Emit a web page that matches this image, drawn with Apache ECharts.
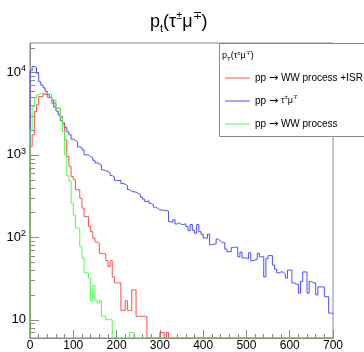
<!DOCTYPE html>
<html><head><meta charset="utf-8">
<script src="https://cdn.jsdelivr.net/npm/echarts@6/dist/echarts.min.js"></script>
<style>html,body{margin:0;padding:0;background:#fff}#c{width:364px;height:352px}</style>
</head><body><div id="c"></div>
<script>
// ---- data (histograms, 5-unit bins from 0 to 700) ----
const BIN_WIDTH = 5;
const X_MIN = 0, X_MAX = 700;
const Y_MIN = 6, Y_MAX = 22750;
const xTickLabels = [0, 100, 200, 300, 400, 500, 600, 700];

const seriesNames = ['pp \u2192 WW process +ISR', 'pp \u2192 \u03c4\u00b1\u03bc\u2213', 'pp \u2192 WW process'];

const blueValues = [
  10500, 11800, 11500, 9800, 7700, 7000, 6500, 5900, 5400, 5000,
  4600, 3800, 3400, 3050, 2600, 2450, 2150, 1900, 1750, 1550,
  1500, 1430, 1250, 1220, 1150, 1000, 1000, 950, 930, 860,
  800, 780, 750, 660, 640, 630, 600, 560, 540, 490,
  485, 495, 450, 440, 425, 380, 360, 355, 355, 340,
  330, 307, 290, 272, 277, 258, 250, 232, 225, 215,
  215, 212, 210, 208, 155, 152, 163, 145, 150, 143,
  143, 146, 135, 120, 143, 121, 112, 143, 117, 109,
  98, 98, 109, 81, 83, 83, 95, 90, 86, 86,
  72, 67, 67, 75, 76, 76, 58, 66, 56, 56,
  55, 65, 52, 53, 54, 64, 58, 58, 33, 55,
  60, 60, 46, 41, 37, 38, 38, 36, 32, 40,
  40, 28, 27, 27, 21, 29, 38, 38, 21, 29,
  28, 28, 20, 25, 25, 25, 19, 19, 12, 12
];

const redValues = [
  1260, 1750, 3350, 4040, 5090, 5090, 5440, 5440, 4950, 4950,
  4240, 4240, 3680, 3680, 2920, 2310, 1520, 955, 720, 545,
  498, 377, 377, 298, 226, 178, 178, 135, 117, 97,
  88, 85, 64, 63, 63, 52, 44, 52, 33, 28,
  28, 28, 13, 13, 17, 13, 13, 23, 23, 11,
  11, 11, 11, 11, 0, 0, 0, 0, 0, 0,
  7, 7, 0, 7, 0, 0, 0, 0, 0, 0,
  0, 0, 0, 0, 0, 0, 0, 0, 0, 0,
  0, 0, 0, 0, 0, 0, 0, 0, 0, 0,
  0, 0, 0, 0, 0, 0, 0, 0, 0, 0,
  0, 0, 0, 0, 0, 0, 0, 0, 0, 0,
  0, 0, 0, 0, 0, 0, 0, 0, 0, 0,
  0, 0, 0, 0, 0, 0, 0, 0, 0, 0,
  0, 0, 0, 0, 0, 0, 0, 0, 0, 0
];

const greenValues = [
  2010, 3840, 4860, 5340, 5580, 5580, 5580, 5580, 5440, 5440,
  4640, 4640, 3680, 3680, 2780, 1920, 1000, 560, 480, 260,
  187, 129, 129, 77, 56, 37, 37, 32, 17, 26,
  17, 16, 17, 11, 11, 10, 10, 10, 0, 0,
  0, 0, 0, 0, 0, 0, 7, 7, 0, 0,
  0, 0, 0, 0, 0, 0, 0, 0, 0, 0,
  0, 0, 0, 0, 0, 0, 0, 0, 0, 0,
  0, 0, 0, 0, 0, 0, 0, 0, 0, 0,
  0, 0, 0, 0, 0, 0, 0, 0, 0, 0,
  0, 0, 0, 0, 0, 0, 0, 0, 0, 0,
  0, 0, 0, 0, 0, 0, 0, 0, 0, 0,
  0, 0, 0, 0, 0, 0, 0, 0, 0, 0,
  0, 0, 0, 0, 0, 0, 0, 0, 0, 0,
  0, 0, 0, 0, 0, 0, 0, 0, 0, 0
];

// ---- helpers ----
const FONT = 'Liberation Sans, Arial, Helvetica, sans-serif';
const ARROW_FONT = 'DejaVu Sans, Liberation Sans, sans-serif';
const AXIS_GRAY = '#8a8a8a';
const COLORS = { red: '#ff4d4d', blue: '#4d4dff', green: '#4dff4d' };

function toSteps(vals) {
  const pts = [[X_MIN, Y_MIN]];
  vals.forEach((v, i) => pts.push([X_MIN + i * BIN_WIDTH, v > 0 ? v : Y_MIN]));
  const last = vals[vals.length - 1];
  pts.push([X_MAX, last > 0 ? last : Y_MIN]);
  return pts;
}

// log-axis tick positions (decades and 2..9 subdivisions) within range
const yTickVals = [];
for (let e = 0; e <= 4; e++) {
  for (let m = 1; m <= 9; m++) {
    const v = m * Math.pow(10, e);
    if (v >= Y_MIN && v <= Y_MAX) yTickVals.push(v);
  }
}

const legendLabels = {};
legendLabels[seriesNames[0]] = '{a|pp }{r|\u2192}{a| WW process +ISR}';
legendLabels[seriesNames[1]] = '{a|pp }{r|\u2192}{a| }{g|\u03c4}{s|\u00b1}{g|\u03bc}{s|\u2213}';
legendLabels[seriesNames[2]] = '{a|pp }{r|\u2192}{a| WW process}';

const chart = echarts.init(document.getElementById('c'));

const grid = { left: 30, top: 43, width: 303, height: 295 };

chart.setOption({
  animation: false,
  backgroundColor: '#fff',
  title: {
    text: '{p|p}{sub|t}{p|(\u03c4}{sup|\u00b1}{p|\u03bc}{sup|\u2213}{p|)}',
    left: 150, top: 10, padding: 0,
    textStyle: {
      fontFamily: FONT, fontWeight: 'normal', color: '#000',
      rich: {
        p: { fontFamily: FONT, fontSize: 18, lineHeight: 24, color: '#000' },
        sub: { fontFamily: FONT, fontSize: 11, lineHeight: 12, verticalAlign: 'bottom', color: '#000' },
        sup: { fontFamily: FONT, fontSize: 11, lineHeight: 12, verticalAlign: 'top', color: '#000' }
      }
    }
  },
  grid: Object.assign({ show: true, borderColor: AXIS_GRAY, borderWidth: 1, backgroundColor: 'transparent' }, grid),
  xAxis: {
    type: 'value', min: X_MIN, max: X_MAX, interval: 100,
    axisLine: { show: true, lineStyle: { color: AXIS_GRAY, width: 1 } },
    axisTick: { show: true, inside: true, length: 8, lineStyle: { color: AXIS_GRAY } },
    minorTick: { show: true, splitNumber: 5, length: 4, lineStyle: { color: AXIS_GRAY } },
    splitLine: { show: false }, minorSplitLine: { show: false },
    axisLabel: {
      color: '#000', fontFamily: FONT, fontSize: 12, margin: 2,
      formatter: v => xTickLabels.indexOf(v) >= 0 ? String(v) : ''
    }
  },
  yAxis: {
    type: 'log', logBase: 10, min: Y_MIN, max: Y_MAX,
    axisLine: { show: true, lineStyle: { color: AXIS_GRAY, width: 1 } },
    axisTick: { show: false }, splitLine: { show: false },
    minorTick: { show: false }, minorSplitLine: { show: false },
    axisLabel: {
      margin: 4, color: '#000', fontFamily: FONT,
      showMinLabel: true, showMaxLabel: true,
      formatter: v => {
        const l = Math.log10(v), e = Math.round(l);
        if (Math.abs(l - e) > 1e-6) return '';
        if (e === 1) return '{b|10}';
        return '{b|10}{s|' + e + '}';
      },
      rich: {
        b: { fontFamily: FONT, fontSize: 13, lineHeight: 16, color: '#000' },
        s: { fontFamily: FONT, fontSize: 9, lineHeight: 10, verticalAlign: 'top', color: '#000' }
      }
    }
  },
  legend: {
    data: [
      { name: seriesNames[0], icon: 'rect', itemStyle: { color: COLORS.red } },
      { name: seriesNames[1], icon: 'rect', itemStyle: { color: COLORS.blue } },
      { name: seriesNames[2], icon: 'rect', itemStyle: { color: COLORS.green } }
    ],
    orient: 'vertical', left: 225, top: 71,
    itemWidth: 25, itemHeight: 1, itemGap: 9,
    selectedMode: false, z: 10, padding: 0,
    formatter: name => legendLabels[name],
    textStyle: {
      fontFamily: FONT, fontSize: 10, color: '#000', lineHeight: 14,
      rich: {
        a: { fontFamily: FONT, fontSize: 10, lineHeight: 14, color: '#000' },
        r: { fontFamily: ARROW_FONT, fontSize: 11, lineHeight: 14, color: '#000' },
        g: { fontFamily: FONT, fontSize: 9, lineHeight: 14, color: '#000' },
        s: { fontFamily: FONT, fontSize: 6, lineHeight: 10, verticalAlign: 'top', color: '#000' }
      }
    }
  },
  graphic: [
    { type: 'rect', z: 5, shape: { x: 219.5, y: 43.5, width: 160, height: 93 },
      style: { fill: '#fff', stroke: AXIS_GRAY, lineWidth: 1 } },
    { type: 'text', z: 6, x: 222, y: 56,
      style: {
        text: '{a|p}{b|T}{a|(\u03c4}{c|\u00b1}{a|\u03bc}{c|\u2213}{a|)}',
        verticalAlign: 'middle', fill: '#000',
        rich: {
          a: { fontFamily: FONT, fontSize: 9, lineHeight: 12, fill: '#000' },
          b: { fontFamily: FONT, fontSize: 6, lineHeight: 7, verticalAlign: 'bottom', fill: '#000' },
          c: { fontFamily: FONT, fontSize: 6, lineHeight: 7, verticalAlign: 'top', fill: '#000' }
        }
      } }
  ],
  series: [
    { name: seriesNames[1], type: 'line', step: 'end', symbol: 'none', z: 2,
      data: toSteps(blueValues), color: COLORS.blue, lineStyle: { width: 1, color: COLORS.blue } },
    { name: seriesNames[0], type: 'line', step: 'end', symbol: 'none', z: 3,
      data: toSteps(redValues), color: COLORS.red, lineStyle: { width: 1, color: COLORS.red } },
    { name: seriesNames[2], type: 'line', step: 'end', symbol: 'none', z: 4,
      data: toSteps(greenValues), color: COLORS.green, lineStyle: { width: 1, color: COLORS.green } },
    { name: 'yticks', type: 'custom', coordinateSystem: 'cartesian2d', silent: true, z: 1,
      data: yTickVals.map(v => [X_MIN, v]), encode: { x: 0, y: 1 },
      renderItem: (params, api) => {
        const v = api.value(1);
        const p = api.coord([X_MIN, v]);
        const l = Math.log10(v);
        const major = Math.abs(l - Math.round(l)) < 1e-9;
        const y = Math.round(p[1]) + 0.5;
        return { type: 'line', shape: { x1: p[0], y1: y, x2: p[0] + (major ? 9 : 5), y2: y },
                 style: { stroke: AXIS_GRAY, lineWidth: 1 } };
      } }
  ]
});
</script></body></html>
